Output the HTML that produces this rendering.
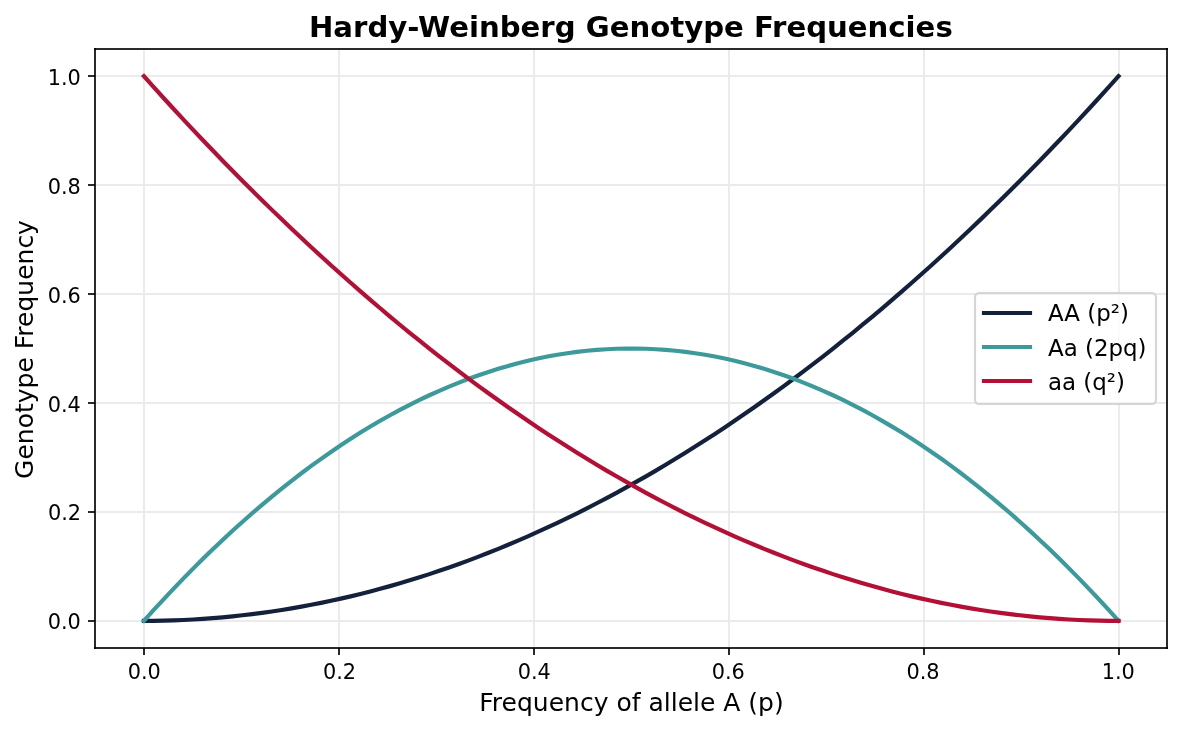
<!DOCTYPE html>
<html lang="en">
<head>
<meta charset="utf-8">
<title>Hardy-Weinberg Genotype Frequencies</title>
<style>
html,body{margin:0;padding:0;background:#fff;}
body{width:1182px;height:730px;overflow:hidden;}
svg{display:block;}
text{font-family:"DejaVu Sans","Liberation Sans",sans-serif;fill:#000;}
.tick{font-size:20.83px;}
.lab{font-size:25px;}
.leg{font-size:22.92px;}
.title{font-size:29.17px;font-weight:bold;}
</style>
</head>
<body>
<svg width="1182" height="730" viewBox="0 0 1182 730">
<rect width="1182" height="730" fill="#ffffff"/>

<g fill="#ebebeb" shape-rendering="crispEdges">
<rect x="143" y="49" width="2" height="599"/>
<rect x="338" y="49" width="2" height="599"/>
<rect x="533" y="49" width="2" height="599"/>
<rect x="728" y="49" width="2" height="599"/>
<rect x="923" y="49" width="2" height="599"/>
<rect x="1118" y="49" width="2" height="599"/>
<rect x="95" y="620" width="1072" height="2"/>
<rect x="95" y="511" width="1072" height="2"/>
<rect x="95" y="402" width="1072" height="2"/>
<rect x="95" y="293" width="1072" height="2"/>
<rect x="95" y="184" width="1072" height="2"/>
<rect x="95" y="75" width="1072" height="2"/>
</g>
<g fill="none" stroke-width="4.17" stroke-linecap="square" stroke-linejoin="round">
<polyline stroke="#14213d" points="143.90,620.85 153.74,620.80 163.59,620.63 173.43,620.35 183.28,619.96 193.12,619.46 202.97,618.85 212.81,618.13 222.65,617.30 232.50,616.35 242.34,615.30 252.19,614.13 262.03,612.85 271.88,611.46 281.72,609.96 291.57,608.35 301.41,606.63 311.26,604.79 321.10,602.85 330.95,600.79 340.79,598.63 350.64,596.35 360.48,593.96 370.32,591.46 380.17,588.85 390.01,586.12 399.86,583.29 409.70,580.34 419.55,577.29 429.39,574.12 439.24,570.84 449.08,567.45 458.93,563.95 468.77,560.34 478.62,556.62 488.46,552.78 498.31,548.84 508.15,544.78 517.99,540.61 527.84,536.33 537.68,531.94 547.53,527.44 557.37,522.83 567.22,518.11 577.06,513.27 586.91,508.33 596.75,503.27 606.60,498.10 616.44,492.82 626.29,487.43 636.13,481.93 645.98,476.32 655.82,470.60 665.66,464.76 675.51,458.82 685.35,452.76 695.20,446.59 705.04,440.31 714.89,433.92 724.73,427.42 734.58,420.81 744.42,414.08 754.27,407.25 764.11,400.30 773.96,393.25 783.80,386.08 793.65,378.80 803.49,371.41 813.33,363.91 823.18,356.29 833.02,348.57 842.87,340.73 852.71,332.79 862.56,324.73 872.40,316.56 882.25,308.28 892.09,299.89 901.94,291.39 911.78,282.78 921.63,274.05 931.47,265.22 941.32,256.27 951.16,247.21 961.00,238.04 970.85,228.77 980.69,219.37 990.54,209.87 1000.38,200.26 1010.23,190.53 1020.07,180.70 1029.92,170.75 1039.76,160.69 1049.61,150.53 1059.45,140.25 1069.30,129.85 1079.14,119.35 1088.98,108.74 1098.83,98.01 1108.67,87.18 1118.52,76.23"/>
<polyline stroke="#3d9a9a" points="143.90,620.85 153.74,609.96 163.59,599.29 173.43,588.85 183.28,578.62 193.12,568.62 202.97,558.84 212.81,549.28 222.65,539.95 232.50,530.83 242.34,521.94 252.19,513.27 262.03,504.83 271.88,496.60 281.72,488.60 291.57,480.82 301.41,473.26 311.26,465.93 321.10,458.82 330.95,451.93 340.79,445.26 350.64,438.81 360.48,432.59 370.32,426.59 380.17,420.81 390.01,415.25 399.86,409.92 409.70,404.80 419.55,399.91 429.39,395.25 439.24,390.80 449.08,386.58 458.93,382.58 468.77,378.80 478.62,375.24 488.46,371.91 498.31,368.80 508.15,365.91 517.99,363.24 527.84,360.79 537.68,358.57 547.53,356.57 557.37,354.79 567.22,353.24 577.06,351.90 586.91,350.79 596.75,349.90 606.60,349.24 616.44,348.79 626.29,348.57 636.13,348.57 645.98,348.79 655.82,349.24 665.66,349.90 675.51,350.79 685.35,351.90 695.20,353.24 705.04,354.79 714.89,356.57 724.73,358.57 734.58,360.79 744.42,363.24 754.27,365.91 764.11,368.80 773.96,371.91 783.80,375.24 793.65,378.80 803.49,382.58 813.33,386.58 823.18,390.80 833.02,395.25 842.87,399.91 852.71,404.80 862.56,409.92 872.40,415.25 882.25,420.81 892.09,426.59 901.94,432.59 911.78,438.81 921.63,445.26 931.47,451.93 941.32,458.82 951.16,465.93 961.00,473.26 970.85,480.82 980.69,488.60 990.54,496.60 1000.38,504.83 1010.23,513.27 1020.07,521.94 1029.92,530.83 1039.76,539.95 1049.61,549.28 1059.45,558.84 1069.30,568.62 1079.14,578.62 1088.98,588.85 1098.83,599.29 1108.67,609.96 1118.52,620.85"/>
<polyline stroke="#b40f35" points="143.90,76.23 153.74,87.18 163.59,98.01 173.43,108.74 183.28,119.35 193.12,129.85 202.97,140.25 212.81,150.53 222.65,160.69 232.50,170.75 242.34,180.70 252.19,190.53 262.03,200.26 271.88,209.87 281.72,219.37 291.57,228.77 301.41,238.04 311.26,247.21 321.10,256.27 330.95,265.22 340.79,274.05 350.64,282.78 360.48,291.39 370.32,299.89 380.17,308.28 390.01,316.56 399.86,324.73 409.70,332.79 419.55,340.73 429.39,348.57 439.24,356.29 449.08,363.91 458.93,371.41 468.77,378.80 478.62,386.08 488.46,393.25 498.31,400.30 508.15,407.25 517.99,414.08 527.84,420.81 537.68,427.42 547.53,433.92 557.37,440.31 567.22,446.59 577.06,452.76 586.91,458.82 596.75,464.76 606.60,470.60 616.44,476.32 626.29,481.93 636.13,487.43 645.98,492.82 655.82,498.10 665.66,503.27 675.51,508.33 685.35,513.27 695.20,518.11 705.04,522.83 714.89,527.44 724.73,531.94 734.58,536.33 744.42,540.61 754.27,544.78 764.11,548.84 773.96,552.78 783.80,556.62 793.65,560.34 803.49,563.95 813.33,567.45 823.18,570.84 833.02,574.12 842.87,577.29 852.71,580.34 862.56,583.29 872.40,586.12 882.25,588.85 892.09,591.46 901.94,593.96 911.78,596.35 921.63,598.63 931.47,600.79 941.32,602.85 951.16,604.79 961.00,606.63 970.85,608.35 980.69,609.96 990.54,611.46 1000.38,612.85 1010.23,614.13 1020.07,615.30 1029.92,616.35 1039.76,617.30 1049.61,618.13 1059.45,618.85 1069.30,619.46 1079.14,619.96 1088.98,620.35 1098.83,620.63 1108.67,620.80 1118.52,620.85"/>
</g>
<g fill="#000000" fill-opacity="0.835" shape-rendering="crispEdges">
<rect x="94" y="48" width="1074" height="2"/>
<rect x="94" y="647" width="1074" height="2"/>
<rect x="94" y="48" width="2" height="601"/>
<rect x="1166" y="48" width="2" height="601"/>
<rect x="143" y="648" width="2" height="7"/>
<rect x="338" y="648" width="2" height="7"/>
<rect x="533" y="648" width="2" height="7"/>
<rect x="728" y="648" width="2" height="7"/>
<rect x="923" y="648" width="2" height="7"/>
<rect x="1118" y="648" width="2" height="7"/>
<rect x="88" y="620" width="7" height="2"/>
<rect x="88" y="511" width="7" height="2"/>
<rect x="88" y="402" width="7" height="2"/>
<rect x="88" y="293" width="7" height="2"/>
<rect x="88" y="184" width="7" height="2"/>
<rect x="88" y="75" width="7" height="2"/>
</g>
<g class="tick" text-anchor="middle">
<text x="144.25" y="679">0.0</text>
<text x="339.5" y="679">0.2</text>
<text x="534.25" y="679">0.4</text>
<text x="728.25" y="679">0.6</text>
<text x="923.0" y="679">0.8</text>
<text x="1118.25" y="679">1.0</text>
</g>
<g class="tick" text-anchor="end">
<text x="80.75" y="629">0.0</text>
<text x="81" y="520">0.2</text>
<text x="80.75" y="412">0.4</text>
<text x="80.75" y="303">0.6</text>
<text x="80.75" y="194">0.8</text>
<text x="80.75" y="85">1.0</text>
</g>
<text class="title" x="630.85" y="37" text-anchor="middle">Hardy-Weinberg Genotype Frequencies</text>
<text class="lab" x="631.5" y="711" text-anchor="middle">Frequency of allele A (p)</text>
<text class="lab" transform="translate(33,349.5) rotate(-90)" text-anchor="middle">Genotype Frequency</text>
<rect x="975" y="293.05" width="181" height="110.9" rx="4.2" ry="4.2" fill="#ffffff" fill-opacity="0.8" stroke="#cccccc" stroke-opacity="0.8" stroke-width="2.15"/>
<g stroke-width="4.17" stroke-linecap="square">
<line x1="984" y1="313" x2="1030" y2="313" stroke="#14213d"/>
<line x1="984" y1="347" x2="1030" y2="347" stroke="#3d9a9a"/>
<line x1="984" y1="381" x2="1030" y2="381" stroke="#b40f35"/>
</g>
<g class="leg">
<text x="1048" y="321">AA (p²)</text>
<text x="1048" y="355.5">Aa (2pq)</text>
<text x="1048" y="390">aa (q²)</text>
</g>
</svg>
</body>
</html>
